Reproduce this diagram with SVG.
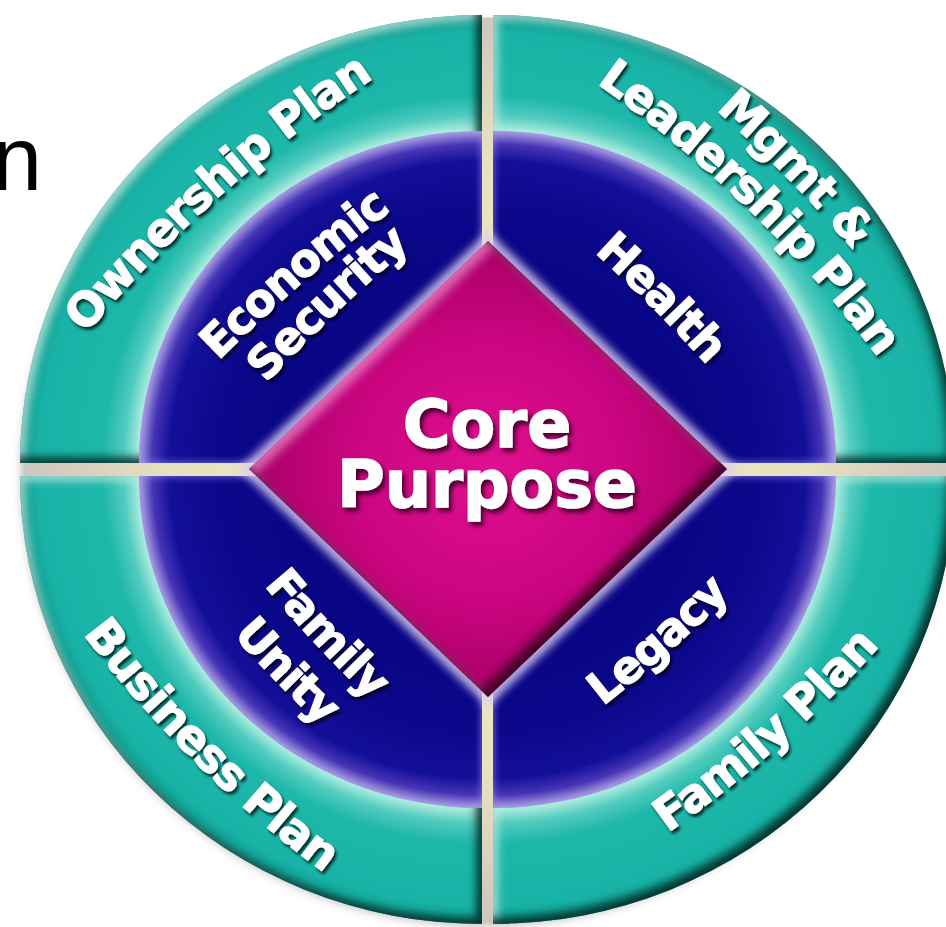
<svg xmlns="http://www.w3.org/2000/svg" xmlns:xlink="http://www.w3.org/1999/xlink" width="946" height="927" viewBox="0 0 946 927">
  <defs>
    <style>
      .lbl { font-family: "DejaVu Sans", "Liberation Sans", sans-serif; font-weight: bold; fill: #ffffff; stroke: #ffffff; stroke-width: 1.1px; stroke-linejoin: round; filter: url(#txtShadow); }
      .outer { font-size: 46px; letter-spacing: -1.5px; }
      .inner { font-size: 45px; letter-spacing: -1.5px; }
      .core { font-size: 65px; text-anchor: middle; stroke-width: 1.5px; filter: url(#coreShadow); }
      .teal { filter: url(#bevel); }
      .blue { filter: url(#blueGlow); }
    </style>

    <!-- ring colours -->
    <radialGradient id="tealTL" cx="1" cy="1" r="1">
      <stop offset="0.70" stop-color="#b4eee3"/>
      <stop offset="0.745" stop-color="#a6eadd"/>
      <stop offset="0.775" stop-color="#52ccbe"/>
      <stop offset="0.82" stop-color="#1db8aa"/>
      <stop offset="0.96" stop-color="#18b3a6"/>
      <stop offset="1" stop-color="#109589"/>
    </radialGradient>
    <radialGradient id="tealTR" href="#tealTL" cx="0" cy="1"/>
    <radialGradient id="tealBR" href="#tealTL" cx="0" cy="0"/>
    <radialGradient id="tealBL" href="#tealTL" cx="1" cy="0"/>

    <radialGradient id="blueTL" cx="1" cy="1" r="1">
      <stop offset="0" stop-color="#06007a"/>
      <stop offset="0.75" stop-color="#0a078a"/>
      <stop offset="0.91" stop-color="#130f99"/>
      <stop offset="0.96" stop-color="#4634b6"/>
      <stop offset="1" stop-color="#ab9ee2"/>
    </radialGradient>
    <radialGradient id="blueTR" href="#blueTL" cx="0" cy="1"/>
    <radialGradient id="blueBR" href="#blueTL" cx="0" cy="0"/>
    <radialGradient id="blueBL" href="#blueTL" cx="1" cy="0"/>

    <radialGradient id="magenta" cx="0.5" cy="0.5" r="0.5">
      <stop offset="0" stop-color="#e0108f"/>
      <stop offset="0.55" stop-color="#cc0582"/>
      <stop offset="1" stop-color="#a80066"/>
    </radialGradient>

    <radialGradient id="gapFill" cx="0.5" cy="0.5" r="0.5">
      <stop offset="0" stop-color="#f2edc4"/>
      <stop offset="0.7" stop-color="#e6e0c0"/>
      <stop offset="1" stop-color="#cdc6be"/>
    </radialGradient>

    <!-- raised bevel: light upper-left rim, dark lower-right rim -->
    <filter id="bevel" x="-4%" y="-4%" width="108%" height="108%" color-interpolation-filters="sRGB">
      <feGaussianBlur in="SourceAlpha" stdDeviation="4" result="b"/>
      <feComposite in="SourceAlpha" in2="b" operator="out" result="rim"/>
      <feFlood flood-color="#004a42" flood-opacity="0.5"/>
      <feComposite in2="rim" operator="in" result="rimShade"/>
      <feOffset in="b" dx="-6" dy="-6" result="bUL"/>
      <feComposite in="SourceAlpha" in2="bUL" operator="out" result="edgeDR"/>
      <feFlood flood-color="#00241f" flood-opacity="0.8"/>
      <feComposite in2="edgeDR" operator="in" result="shade"/>
      <feOffset in="b" dx="5" dy="5" result="bDR"/>
      <feComposite in="SourceAlpha" in2="bDR" operator="out" result="edgeUL"/>
      <feFlood flood-color="#dcfff6" flood-opacity="0.7"/>
      <feComposite in2="edgeUL" operator="in" result="shine"/>
      <feMerge>
        <feMergeNode in="SourceGraphic"/>
        <feMergeNode in="rimShade"/>
        <feMergeNode in="shine"/>
        <feMergeNode in="shade"/>
      </feMerge>
    </filter>

    <filter id="blueGlow" x="-4%" y="-4%" width="108%" height="108%" color-interpolation-filters="sRGB">
      <feGaussianBlur in="SourceAlpha" stdDeviation="4" result="b"/>
      <feComposite in="SourceAlpha" in2="b" operator="out" result="rim"/>
      <feFlood flood-color="#9d8ee8" flood-opacity="0.85"/>
      <feComposite in2="rim" operator="in" result="glow"/>
      <feMerge>
        <feMergeNode in="SourceGraphic"/>
        <feMergeNode in="glow"/>
      </feMerge>
    </filter>

    <filter id="diamondBevel" x="-5%" y="-5%" width="110%" height="110%" color-interpolation-filters="sRGB">
      <feGaussianBlur in="SourceAlpha" stdDeviation="5" result="b"/>
      <feOffset in="b" dx="-7" dy="-7" result="bUL"/>
      <feComposite in="SourceAlpha" in2="bUL" operator="out" result="edgeDR"/>
      <feFlood flood-color="#3c0020" flood-opacity="0.9"/>
      <feComposite in2="edgeDR" operator="in" result="shade"/>
      <feOffset in="b" dx="6" dy="6" result="bDR"/>
      <feComposite in="SourceAlpha" in2="bDR" operator="out" result="edgeUL"/>
      <feFlood flood-color="#ffb8e4" flood-opacity="0.55"/>
      <feComposite in2="edgeUL" operator="in" result="shine"/>
      <feMerge>
        <feMergeNode in="SourceGraphic"/>
        <feMergeNode in="shine"/>
        <feMergeNode in="shade"/>
      </feMerge>
    </filter>

    <filter id="softBlur" x="-10%" y="-10%" width="120%" height="120%">
      <feGaussianBlur stdDeviation="6"/>
    </filter>
    <filter id="haloBlur" x="-10%" y="-10%" width="120%" height="120%">
      <feGaussianBlur stdDeviation="4"/>
    </filter>

    <filter id="txtShadow" x="-20%" y="-20%" width="140%" height="140%">
      <feDropShadow dx="2" dy="3" stdDeviation="1.5" flood-color="#000000" flood-opacity="0.75"/>
    </filter>
    <filter id="coreShadow" x="-20%" y="-20%" width="140%" height="140%">
      <feDropShadow dx="3" dy="4" stdDeviation="2" flood-color="#2a0016" flood-opacity="0.8"/>
    </filter>

    <!-- label baselines -->
    <path id="p-own" d="M71.2,352.1 Q207.8,182.3 392.4,66.1"/>
    <path id="p-mgmt" d="M699.1,95.0 Q790.4,173.7 867.3,266.4"/>
    <path id="p-lead" d="M584.9,75.1 Q760.6,195.7 885.9,367.9"/>
    <path id="p-bus" d="M70.4,616.8 Q184.1,771.9 340.2,884.4"/>
    <path id="p-fam" d="M651.8,844.1 Q785,753.3 891.8,632.5"/>
    <path id="p-eco" d="M199.9,379.5 Q297.7,278.4 411.1,195.3"/>
    <path id="p-sec" d="M238.3,413.6 Q331.7,308.5 441.5,221.0"/>
    <path id="p-hea" d="M571.1,231.7 Q654.5,303.9 726.7,387.3"/>
    <path id="p-fly" d="M237.7,552.7 Q312.1,647.2 401.3,728.1"/>
    <path id="p-uni" d="M209.1,606.7 Q273.1,683.9 348.7,749.9"/>
    <path id="p-leg" d="M574.4,727.9 Q671.1,656.3 754.6,569.5"/>
  </defs>

  <rect width="946" height="927" fill="#ffffff"/>

  <!-- heading fragment -->
  <text x="-8" y="190" font-family="Liberation Sans, Arial, sans-serif" font-size="90" fill="#000000">n</text>

  <!-- disc shadow and gap background -->
  <ellipse cx="485" cy="474" rx="462" ry="450" fill="#000000" opacity="0.35" filter="url(#softBlur)"/>
  <ellipse cx="487.5" cy="469.5" rx="462" ry="452" fill="url(#gapFill)"/>

  <!-- outer ring quadrants -->
  <g id="ownership-plan">
    <path class="teal" d="M482,463 L20,463 A462,448 0 0 1 482,15 Z" fill="url(#tealTL)"/>
  </g>
  <g id="mgmt-leadership-plan">
    <path class="teal" d="M493,463 L493,15 A462,448 0 0 1 955,463 Z" fill="url(#tealTR)"/>
  </g>
  <g id="family-plan">
    <path class="teal" d="M493,476 L955,476 A462,448 0 0 1 493,924 Z" fill="url(#tealBR)"/>
  </g>
  <g id="business-plan">
    <path class="teal" d="M482,476 L482,924 A462,448 0 0 1 20,476 Z" fill="url(#tealBL)"/>
  </g>

  <!-- inner ring quadrants -->
  <g id="economic-security">
    <path class="blue" d="M482,463 L139,463 A343,332 0 0 1 482,131 Z" fill="url(#blueTL)"/>
  </g>
  <g id="health">
    <path class="blue" d="M493,463 L493,131 A343,332 0 0 1 836,463 Z" fill="url(#blueTR)"/>
  </g>
  <g id="legacy">
    <path class="blue" d="M493,476 L836,476 A343,332 0 0 1 493,808 Z" fill="url(#blueBR)"/>
  </g>
  <g id="family-unity">
    <path class="blue" d="M482,476 L482,808 A343,332 0 0 1 139,476 Z" fill="url(#blueBL)"/>
  </g>

  <!-- centre diamond -->
  <g id="core-purpose">
    <polygon points="488,241 727,469 488,697 249,469" fill="none" stroke="#d9cdf2" stroke-width="14" opacity="0.85" filter="url(#haloBlur)"/>
    <polygon points="488,241 727,469 488,697 249,469" fill="url(#magenta)" filter="url(#diamondBevel)"/>
    <text class="lbl core" x="487" y="447">Core</text>
    <text class="lbl core" x="487" y="507">Purpose</text>
  </g>

  <!-- labels -->
  <g id="labels">
    <text class="lbl outer"><textPath href="#p-own" startOffset="50%" text-anchor="middle">Ownership Plan</textPath></text>
    <text class="lbl outer"><textPath href="#p-mgmt" startOffset="50%" text-anchor="middle">Mgmt &amp;</textPath></text>
    <text class="lbl outer"><textPath href="#p-lead" startOffset="50%" text-anchor="middle">Leadership Plan</textPath></text>
    <text class="lbl outer"><textPath href="#p-bus" startOffset="50%" text-anchor="middle">Business Plan</textPath></text>
    <text class="lbl outer"><textPath href="#p-fam" startOffset="50%" text-anchor="middle">Family Plan</textPath></text>
    <text class="lbl inner"><textPath href="#p-eco" startOffset="50%" text-anchor="middle">Economic</textPath></text>
    <text class="lbl inner"><textPath href="#p-sec" startOffset="50%" text-anchor="middle">Security</textPath></text>
    <text class="lbl inner"><textPath href="#p-hea" startOffset="50%" text-anchor="middle">Health</textPath></text>
    <text class="lbl inner"><textPath href="#p-fly" startOffset="50%" text-anchor="middle">Family</textPath></text>
    <text class="lbl inner"><textPath href="#p-uni" startOffset="50%" text-anchor="middle">Unity</textPath></text>
    <text class="lbl inner"><textPath href="#p-leg" startOffset="50%" text-anchor="middle">Legacy</textPath></text>
  </g>
</svg>
